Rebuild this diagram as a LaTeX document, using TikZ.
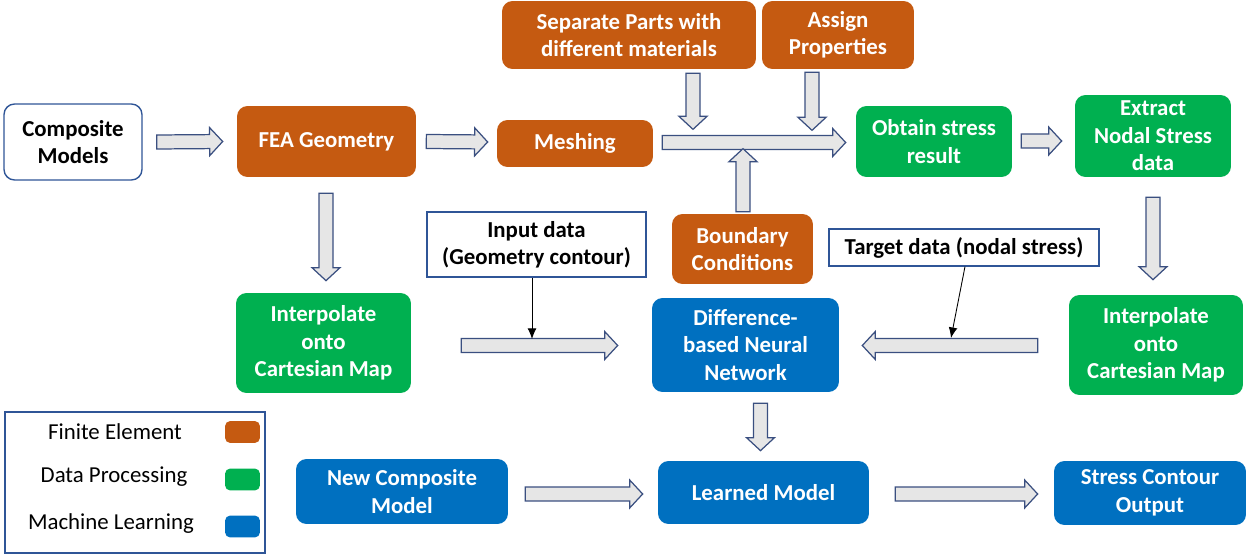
\documentclass[tikz,border=0pt]{standalone}
\usepackage{fontspec}
\setmainfont{Carlito}
\usetikzlibrary{calc,arrows.meta}
\definecolor{feacol}{HTML}{C55A11}
\definecolor{datcol}{HTML}{00B050}
\definecolor{mlcol}{HTML}{0070C0}
\definecolor{boxline}{HTML}{2F5597}
\definecolor{arrline}{HTML}{3A4F80}
\definecolor{arrfill}{HTML}{E6E6E6}
\tikzset{
    box/.style={rounded corners=6pt, align=center, inner sep=2pt,
        font=\fontsize{13}{15.6}\selectfont\bfseries},
    fea/.style={box, fill=feacol, text=white},
    dat/.style={box, fill=datcol, text=white},
    ml/.style={box, fill=mlcol, text=white},
    startbox/.style={box, draw=boxline, line width=0.8pt, fill=white},
    notebox/.style={draw=boxline, line width=0.7pt, fill=white, align=center, inner sep=2pt,
        font=\fontsize{13}{15.6}\selectfont\bfseries},
    blockarr/.style={draw=arrline, fill=arrfill, line width=0.7pt, line join=miter},
    thinarr/.style={-{Latex[length=6pt,width=5pt]}, line width=0.5pt},
    swatch/.style={rounded corners=3pt, minimum width=0.7cm, minimum height=0.44cm, inner sep=0pt},
    legtext/.style={font=\fontsize{13}{15.6}\selectfont}
}
\newcommand{\barrow}[2]{\coordinate (bxa) at (#1); \coordinate (bxb) at (#2);
    \coordinate (bxc) at ($(bxb)!0.26cm!(bxa)$);
    \draw[blockarr] ($(bxa)!0.14cm!90:(bxb)$) -- ($(bxc)!0.14cm!90:(bxb)$) -- ($(bxc)!0.28cm!90:(bxb)$)
        -- (bxb) -- ($(bxc)!0.28cm!-90:(bxb)$) -- ($(bxc)!0.14cm!-90:(bxb)$) -- ($(bxa)!0.14cm!-90:(bxb)$) -- cycle;}

\begin{document}
\begin{tikzpicture}[x=0.02cm, y=-0.02cm]
    \useasboundingbox (0,0) rectangle (1249,554);

    % top row
    \node[startbox, minimum width=2.76cm, minimum height=1.52cm] (comp) at (73,142) {Composite\\Models};
    \node[fea, minimum width=3.58cm, minimum height=1.42cm] (geo) at (326.5,141.5) {FEA Geometry};
    \node[fea, minimum width=3.12cm, minimum height=0.94cm] (mesh) at (575,143.5) {Meshing};
    \node[fea, minimum width=5.08cm, minimum height=1.36cm] (sep) at (629,35) {Separate Parts with\\different materials};
    \node[fea, minimum width=3.04cm, minimum height=1.36cm] (prop) at (838,35) {Assign\\Properties};
    \node[dat, minimum width=3.12cm, minimum height=1.42cm] (obt) at (934,141.5) {Obtain stress\\result};
    \node[dat, minimum width=3.12cm, minimum height=1.64cm] (ext) at (1153,136) {Extract\\Nodal Stress\\data};

    % middle row
    \node[dat, minimum width=3.5cm, minimum height=2cm] (intl) at (323.5,343) {Interpolate\\onto\\Cartesian Map};
    \node[notebox, minimum width=4.38cm, minimum height=1.3cm] (inp) at (536.5,244.5) {Input data\\(Geometry contour)};
    \node[fea, minimum width=2.82cm, minimum height=1.4cm] (bnd) at (742.5,249) {Boundary\\Conditions};
    \node[notebox, minimum width=5.4cm, minimum height=0.74cm] (tgt) at (964,247.5) {Target data (nodal stress)};
    \node[ml, minimum width=3.74cm, minimum height=1.88cm] (dnn) at (745.5,345) {Difference-\\based Neural\\Network};
    \node[dat, minimum width=3.48cm, minimum height=2cm] (intr) at (1156,345) {Interpolate\\onto\\Cartesian Map};

    % bottom row
    \node[ml, minimum width=4.24cm, minimum height=1.3cm] (newc) at (402,491.5) {New Composite\\Model};
    \node[ml, minimum width=4.22cm, minimum height=1.26cm] (lrn) at (763.5,492.5) {Learned Model};
    \node[ml, minimum width=3.84cm, minimum height=1.28cm] (out) at (1150,493) {Stress Contour\\Output};

    % legend
    \node[draw=boxline, line width=0.7pt, minimum width=5.2cm, minimum height=2.82cm] (leg) at (135,482.5) {};
    \node[swatch, fill=feacol] (sw1) at (242.5,432) {};
    \node[swatch, fill=datcol] (sw2) at (242.5,479.5) {};
    \node[swatch, fill=mlcol] (sw3) at (242.5,526.5) {};
    \node[legtext] (lt1) at (115,432) {Finite Element};
    \node[legtext] (lt2) at (114,477) {Data Processing};
    \node[legtext] (lt3) at (111,524) {Machine Learning};

    % block arrows
    \barrow{$(comp.east)+(14,0)$}{$(geo.west)+(-14,0)$}
    \barrow{$(geo.east)+(10,0)$}{$(mesh.west)+(-9,-1.5)$}
    \barrow{$(mesh.east)+(9,-1)$}{$(obt.west)+(-10,1)$}
    \barrow{$(sep.south)+(64,4)$}{$(sep.south)+(64,60)$}
    \barrow{$(prop.south)+(-26,3)$}{$(prop.south)+(-26,61)$}
    \barrow{$(bnd.north)+(0.5,-2)$}{$(bnd.north)+(0.5,-65)$}
    \barrow{$(obt.east)+(9,-0.5)$}{$(ext.west)+(-13,5)$}
    \barrow{$(geo.south)+(-0.5,16)$}{$(intl.north)+(2.5,-12)$}
    \barrow{$(ext.south)+(0,20)$}{$(intr.north)+(-3,-15)$}
    \barrow{$(intl.east)+(50,2.5)$}{$(dnn.west)+(-34,0.5)$}
    \barrow{$(intr.west)+(-31,0.5)$}{$(dnn.east)+(23,0.5)$}
    \barrow{$(dnn.south)+(15,11)$}{$(lrn.north)+(-3,-10)$}
    \barrow{$(newc.east)+(17,2.5)$}{$(lrn.west)+(-15,1.5)$}
    \barrow{$(lrn.east)+(26,1.5)$}{$(out.west)+(-16,1)$}

    % data links
    \coordinate (inhit) at (532,339);
    \coordinate (tghit) at (951,338);
    \draw[thinarr] (inp.south -| inhit) -- (inhit);
    \draw[thinarr] ($(tgt.south)+(1,0)$) -- (tghit);
\end{tikzpicture}
\end{document}
